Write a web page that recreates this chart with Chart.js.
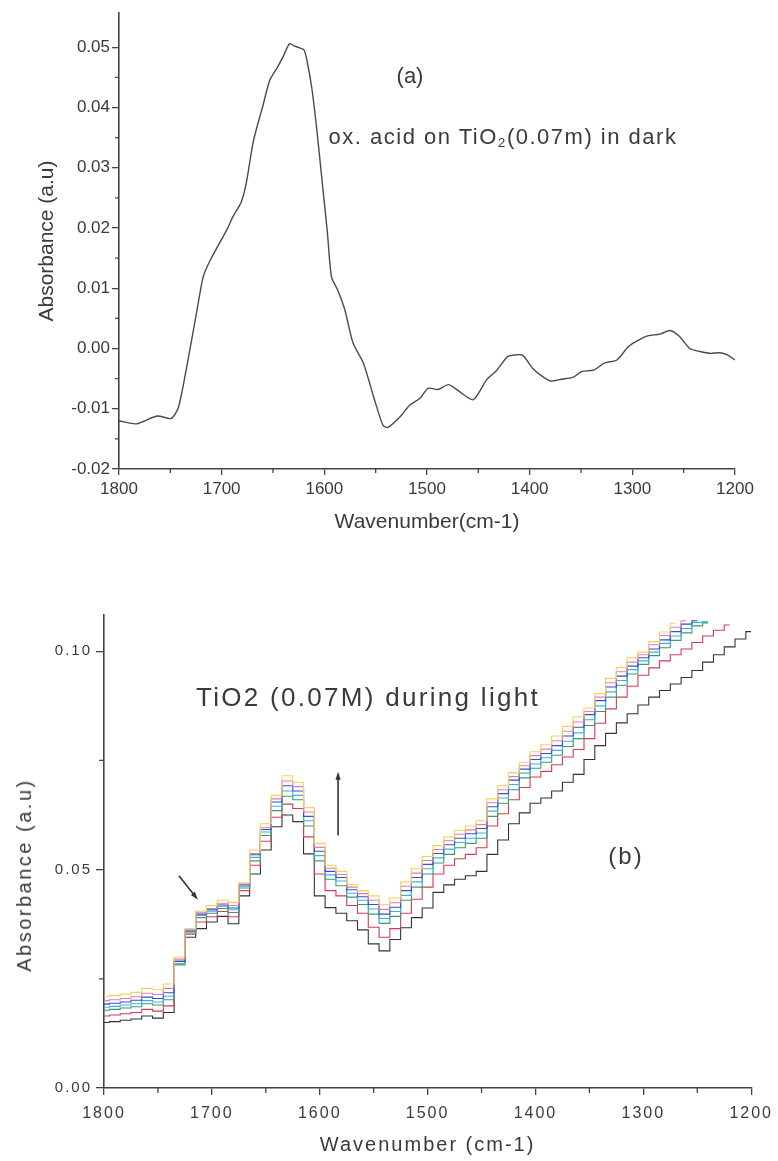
<!DOCTYPE html>
<html lang="en">
<head>
<meta charset="UTF-8">
<title>Oxalic acid on TiO2 - IR absorbance</title>
<script src="https://cdn.jsdelivr.net/npm/chart.js"></script>
<style>
    body { margin: 0; background: #fff; font-family: "Liberation Sans", Arial, sans-serif; }
    .page { position: relative; width: 778px; height: 1161px; overflow: hidden; }
    canvas { position: absolute; left: 0; }
    #chartA { top: 0; }
    #chartB { top: 560px; }
    .note { position: absolute; color: #3a3a3a; white-space: nowrap; line-height: 1; transform: translate(-50%, -50%); }
    .note sub { font-size: 62%; vertical-align: -0.25em; line-height: 0; }
</style>
</head>
<body>
<div class="page">
    <canvas id="chartA" width="778" height="560"></canvas>
    <canvas id="chartB" width="778" height="601"></canvas>

    <!-- panel labels -->
    <div class="note" style="left:410px; top:76px; font-size:22px;">(a)</div>
    <div class="note" style="left:503px; top:137px; font-size:22px; letter-spacing:1.5px;">ox. acid on TiO<sub>2</sub>(0.07m) in dark</div>
    <div class="note" style="left:368px; top:697px; font-size:26px; letter-spacing:2.3px;">TiO2 (0.07M) during light</div>
    <div class="note" style="left:626px; top:856px; font-size:24px; letter-spacing:2px;">(b)</div>
    <div class="note" style="left:24px; top:875px; font-size:20px; letter-spacing:2.5px; transform: translate(-50%, -50%) rotate(-90deg);">Absorbance (a.u)</div>
</div>

<script>
    // (a) dark spectrum
    const wnA = [1800, 1783, 1763, 1749, 1742, 1734, 1724, 1718, 1711, 1695, 1689, 1681, 1676, 1669, 1660, 1653, 1646, 1640, 1634, 1630,
                 1624, 1620, 1617, 1612, 1607, 1602, 1597, 1593, 1587, 1580, 1572, 1562, 1552, 1543, 1538, 1526, 1517, 1507, 1499, 1489,
                 1479, 1468, 1455, 1442, 1432, 1422, 1416, 1407, 1397, 1387, 1379, 1369, 1358, 1349, 1338, 1327, 1315, 1304, 1294, 1285,
                 1273, 1263, 1254, 1244, 1234, 1224, 1215, 1207, 1200];
    const absA = [-0.0120, -0.0125, -0.0112, -0.0116, -0.0097, -0.0030, 0.0064, 0.0119, 0.0147, 0.0197, 0.0219, 0.0243, 0.0275, 0.0345, 0.0402, 0.0446, 0.0466, 0.0485, 0.0506, 0.0503,
                  0.0499, 0.0496, 0.0479, 0.0430, 0.0358, 0.0275, 0.0192, 0.0119, 0.0097, 0.0064, 0.0009, -0.0024, -0.0080, -0.0127, -0.0131, -0.0113, -0.0094, -0.0083, -0.0066, -0.0068,
                  -0.0060, -0.0072, -0.0085, -0.0052, -0.0036, -0.0014, -0.0011, -0.0011, -0.0033, -0.0047, -0.0054, -0.0051, -0.0048, -0.0038, -0.0036, -0.0024, -0.0019, 0.0003, 0.0014, 0.0021,
                  0.0024, 0.0030, 0.0020, 0.0000, -0.0005, -0.0008, -0.0007, -0.0011, -0.0019];

    // (b) spectra during illumination, one array per trace
    const wnB = [1800, 1790, 1780, 1770, 1760, 1750, 1740, 1730, 1720, 1710,
                 1700, 1690, 1680, 1670, 1660, 1650, 1640, 1630, 1620, 1610,
                 1600, 1590, 1580, 1570, 1560, 1550, 1540, 1530, 1520, 1510,
                 1500, 1490, 1480, 1470, 1460, 1450, 1440, 1430, 1420, 1410,
                 1400, 1390, 1380, 1370, 1360, 1350, 1340, 1330, 1320, 1310,
                 1300, 1290, 1280, 1270, 1260, 1250, 1240, 1230, 1220, 1210,
                 1200];
    const blackB = [.0150, .0152, .0155, .0158, .0165, .0160, .0173, .0290, .0345, .0365,
                    .0380, .0393, .0376, .0440, .0490, .0545, .0598, .0625, .0610, .0536,
                    .0440, .0413, .0400, .0383, .0362, .0330, .0314, .0340, .0367, .0390,
                    .0412, .0448, .0465, .0478, .0486, .0496, .0535, .0568, .0605, .0630,
                    .0652, .0664, .0680, .0700, .0718, .0752, .0784, .0812, .0836, .0857,
                    .0877, .0895, .0910, .0925, .0940, .0956, .0975, .0992, .1010, .1028,
                    .1045];
    const redB = [.0165, .0167, .0170, .0173, .0180, .0176, .0188, .0285, .0352, .0380,
                  .0392, .0404, .0392, .0452, .0510, .0565, .0620, .0650, .0640, .0575,
                  .0490, .0452, .0440, .0418, .0400, .0368, .0345, .0365, .0400, .0432,
                  .0460, .0490, .0510, .0525, .0535, .0550, .0600, .0628, .0660, .0688,
                  .0712, .0725, .0740, .0758, .0775, .0800, .0835, .0868, .0895, .0920,
                  .0945, .0962, .0978, .0992, .1005, .1020, .1035, .1048, .1060, null,
                  null];
    const greenB = [.0178, .0180, .0183, .0186, .0193, .0190, .0202, .0282, .0355, .0390,
                    .0400, .0411, .0402, .0458, .0520, .0578, .0635, .0668, .0660, .0600,
                    .0520, .0478, .0463, .0437, .0420, .0398, .0377, .0393, .0430, .0460,
                    .0490, .0515, .0535, .0550, .0560, .0572, .0622, .0652, .0683, .0710,
                    .0732, .0746, .0762, .0782, .0800, .0830, .0862, .0895, .0922, .0948,
                    .0970, .0990, .1008, .1025, .1042, .1058, .1065, null, null, null,
                    null];
    const cyanB = [.0185, .0187, .0190, .0193, .0200, .0197, .0210, .0285, .0358, .0395,
                   .0405, .0416, .0408, .0462, .0528, .0586, .0645, .0680, .0670, .0612,
                   .0532, .0488, .0474, .0446, .0430, .0410, .0388, .0404, .0441, .0472,
                   .0502, .0527, .0547, .0562, .0572, .0584, .0634, .0664, .0695, .0721,
                   .0742, .0756, .0773, .0794, .0813, .0843, .0875, .0907, .0933, .0958,
                   .0978, .0998, .1018, .1035, .1052, .1066, .1068, null, null, null,
                   null];
    const blueB = [.0192, .0194, .0197, .0201, .0208, .0205, .0218, .0290, .0360, .0398,
                   .0408, .0419, .0412, .0465, .0534, .0592, .0655, .0692, .0680, .0622,
                   .0542, .0496, .0482, .0454, .0438, .0420, .0398, .0414, .0452, .0482,
                   .0512, .0537, .0557, .0572, .0582, .0594, .0644, .0674, .0705, .0730,
                   .0752, .0766, .0784, .0806, .0826, .0855, .0887, .0918, .0943, .0966,
                   .0985, .1005, .1026, .1045, .1062, .1070, null, null, null, null,
                   null];
    const magentaB = [.0200, .0202, .0205, .0209, .0217, .0214, .0228, .0295, .0362, .0401,
                      .0411, .0423, .0418, .0467, .0537, .0596, .0662, .0703, .0690, .0632,
                      .0551, .0503, .0489, .0460, .0445, .0430, .0409, .0424, .0462, .0492,
                      .0521, .0546, .0566, .0581, .0591, .0603, .0653, .0683, .0713, .0738,
                      .0761, .0776, .0795, .0817, .0838, .0862, .0895, .0928, .0953, .0975,
                      .0992, .1015, .1036, .1055, .1070, null, null, null, null, null,
                      null];
    const yellowB = [.0210, .0212, .0215, .0219, .0228, .0225, .0238, .0300, .0365, .0405,
                     .0418, .0430, .0425, .0470, .0545, .0605, .0670, .0715, .0700, .0642,
                     .0560, .0510, .0496, .0466, .0452, .0440, .0420, .0435, .0472, .0502,
                     .0530, .0555, .0575, .0590, .0600, .0612, .0662, .0692, .0722, .0746,
                     .0770, .0786, .0806, .0828, .0850, .0870, .0903, .0938, .0963, .0985,
                     .0998, .1022, .1044, .1064, null, null, null, null, null, null,
                     null];

    // tick values
    const xTicks = [1800, 1700, 1600, 1500, 1400, 1300, 1200];
    const xMinor = [1750, 1650, 1550, 1450, 1350, 1250];
    const yTicksA = [-0.02, -0.01, 0.00, 0.01, 0.02, 0.03, 0.04, 0.05];
    const yMinorA = [-0.015, -0.005, 0.005, 0.015, 0.025, 0.035, 0.045];
    const yTicksB = [0.00, 0.05, 0.10];
    const yMinorB = [0.025, 0.075];

    Chart.defaults.font.family = '"Liberation Sans", Arial, sans-serif';
    Chart.defaults.color = '#3a3a3a';
    Chart.defaults.animation = false;

    const toPoints = (xs, ys) => xs.map((x, i) => ({ x: x, y: ys[i] }));
    const fixedTicks = vals => scale => { scale.ticks = vals.map(v => ({ value: v })); };

    // short outward ticks between the labelled ones
    const minorTicks = {
        id: 'minorTicks',
        afterDraw(chart, args, opts) {
            const { ctx, chartArea: a, scales } = chart;
            ctx.save();
            ctx.strokeStyle = '#444';
            ctx.lineWidth = 1.3;
            ctx.beginPath();
            opts.x.forEach(v => {
                const p = scales.x.getPixelForValue(v);
                ctx.moveTo(p, a.bottom);
                ctx.lineTo(p, a.bottom + opts.length);
            });
            opts.y.forEach(v => {
                const p = scales.y.getPixelForValue(v);
                ctx.moveTo(a.left, p);
                ctx.lineTo(a.left - opts.length, p);
            });
            ctx.stroke();
            ctx.restore();
        }
    };

    // arrows placed in data coordinates
    const arrows = {
        id: 'arrows',
        afterDatasetsDraw(chart, args, opts) {
            const { ctx, scales: { x, y } } = chart;
            (opts.items || []).forEach(a => {
                const x0 = x.getPixelForValue(a.from[0]), y0 = y.getPixelForValue(a.from[1]);
                const x1 = x.getPixelForValue(a.to[0]), y1 = y.getPixelForValue(a.to[1]);
                const ang = Math.atan2(y1 - y0, x1 - x0);
                const c = Math.cos(ang), s = Math.sin(ang);
                ctx.save();
                ctx.strokeStyle = ctx.fillStyle = '#333';
                ctx.lineWidth = 1.6;
                ctx.beginPath();
                ctx.moveTo(x0, y0);
                ctx.lineTo(x1 - 6 * c, y1 - 6 * s);
                ctx.stroke();
                ctx.beginPath();
                ctx.moveTo(x1, y1);
                ctx.lineTo(x1 - 8 * c + 2.6 * s, y1 - 8 * s - 2.6 * c);
                ctx.lineTo(x1 - 8 * c - 2.6 * s, y1 - 8 * s + 2.6 * c);
                ctx.closePath();
                ctx.fill();
                ctx.restore();
            });
        }
    };

    const spacing = {
        id: 'spacing',
        beforeDraw(chart, args, opts) { chart.ctx.letterSpacing = opts.value; }
    };

    const fmt2 = v => (Math.abs(v) < 1e-9 ? 0 : v).toFixed(2);

    new Chart(document.getElementById('chartA'), {
        type: 'line',
        data: {
            datasets: [{
                data: toPoints(wnA, absA),
                borderColor: '#4a4a4a',
                borderWidth: 1.4,
                pointRadius: 0,
                tension: 0.25
            }]
        },
        options: {
            responsive: false,
            layout: { padding: { left: 31, right: 43, top: 13, bottom: 21 } },
            plugins: {
                legend: { display: false },
                tooltip: { enabled: false },
                minorTicks: { x: xMinor, y: yMinorA, length: 4 }
            },
            scales: {
                x: {
                    type: 'linear', reverse: true, min: 1200, max: 1800,
                    afterFit: s => { s.height = 70; },
                    afterBuildTicks: fixedTicks(xTicks),
                    grid: { drawOnChartArea: false, tickLength: 6, color: '#444', lineWidth: 1.3 },
                    border: { color: '#444', width: 1.6 },
                    ticks: { padding: 4, font: { size: 17 }, maxRotation: 0, autoSkip: false, callback: v => String(v) },
                    title: { display: true, text: 'Wavenumber(cm-1)', font: { size: 21 } }
                },
                y: {
                    min: -0.02, max: 0.0557,
                    afterFit: s => { s.width = 88; },
                    afterBuildTicks: fixedTicks(yTicksA),
                    grid: { drawOnChartArea: false, tickLength: 7, color: '#444', lineWidth: 1.3 },
                    border: { color: '#444', width: 1.6 },
                    ticks: { padding: 2, font: { size: 17 }, autoSkip: false, callback: fmt2 },
                    title: { display: true, text: 'Absorbance (a.u)', font: { size: 21 } }
                }
            }
        },
        plugins: [minorTicks]
    });

    const traces = [
        { data: yellowB, color: '#f2d35a' },
        { data: magentaB, color: '#e27ab6' },
        { data: blueB, color: '#3550c2' },
        { data: cyanB, color: '#3cb2da' },
        { data: greenB, color: '#3a9a72' },
        { data: redB, color: '#d23c52' },
        { data: blackB, color: '#333333' }
    ];

    new Chart(document.getElementById('chartB'), {
        type: 'line',
        data: {
            datasets: traces.map(t => ({
                data: toPoints(wnB, t.data),
                borderColor: t.color,
                borderWidth: 1.1,
                pointRadius: 0,
                stepped: 'middle'
            }))
        },
        options: {
            responsive: false,
            layout: { padding: { left: 8, right: 25, top: 55, bottom: 0 } },
            plugins: {
                legend: { display: false },
                tooltip: { enabled: false },
                spacing: { value: '2px' },
                minorTicks: { x: xMinor, y: yMinorB, length: 5 },
                arrows: {
                    items: [
                        { from: [1583, 0.0578], to: [1583, 0.0724] },
                        { from: [1730.5, 0.0486], to: [1713, 0.0431] }
                    ]
                }
            },
            scales: {
                x: {
                    type: 'linear', reverse: true, min: 1200, max: 1800,
                    afterFit: s => { s.height = 73; },
                    afterBuildTicks: fixedTicks(xTicks),
                    grid: { drawOnChartArea: false, tickLength: 7, color: '#444', lineWidth: 1.3 },
                    border: { color: '#444', width: 1.6 },
                    ticks: { padding: 9, font: { size: 16 }, maxRotation: 0, autoSkip: false, callback: v => String(v) },
                    title: { display: true, text: 'Wavenumber (cm-1)', font: { size: 20 } }
                },
                y: {
                    min: 0, max: 0.1083,
                    afterFit: s => { s.width = 96; },
                    afterBuildTicks: fixedTicks(yTicksB),
                    grid: { drawOnChartArea: false, tickLength: 8, color: '#444', lineWidth: 1.3 },
                    border: { color: '#444', width: 1.6 },
                    ticks: { padding: 4, font: { size: 15 }, autoSkip: false, callback: fmt2 },
                    title: { display: false }
                }
            }
        },
        plugins: [spacing, minorTicks, arrows]
    });
</script>
</body>
</html>
